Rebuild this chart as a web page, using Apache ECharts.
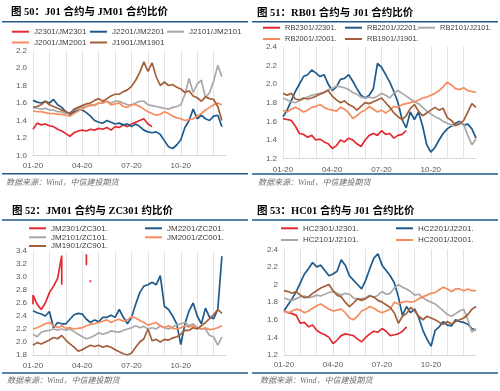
<!DOCTYPE html>
<html><head><meta charset="utf-8">
<script src="https://cdn.jsdelivr.net/npm/echarts@6/dist/echarts.min.js"></script>
<style>html,body{margin:0;padding:0;background:#fff}#c{width:500px;height:391px}</style>
</head><body><div id="c"></div>
<script>
const categories = ["01-20","01-27","02-05","02-12","02-20","02-27","03-05","03-12","03-20","03-27","04-05","04-12","04-20","04-27","05-05","05-12","05-20","05-27","06-05","06-12","06-20","06-27","07-05","07-12","07-20","07-27","08-05","08-12","08-20","08-27","09-05","09-12","09-20","09-27","10-05","10-12","10-20","10-27","11-05","11-12","11-20","11-27","12-05","12-12","12-20","12-27","01-05","01-12"];
const tickLabels = ["01-20","04-20","07-20","10-20"];

// Panel 1: J01 / JM01
const p1Names = ["J2301/JM2301","J2201/JM2201","J2101/JM2101","J2001/JM2001","J1901/JM1901"];
const p1_J2301 = [1.30,1.37,1.35,1.36,1.34,1.33,1.30,1.28,1.25,1.22,1.26,1.28,1.29,1.28,1.30,1.29,1.31,1.30,1.32,1.29,1.33,1.32,1.35,1.33,1.36,1.38,1.40,1.42,1.36,1.33];
const p1_J2201 = [1.63,1.61,1.60,1.62,1.60,1.64,1.58,1.55,1.50,1.47,1.50,1.52,1.52,1.49,1.45,1.40,1.38,1.37,1.40,1.38,1.36,1.37,1.35,1.36,1.33,1.36,1.33,1.29,1.27,1.26,1.27,1.24,1.17,1.10,1.08,1.12,1.18,1.32,1.40,1.53,1.42,1.46,1.42,1.40,1.45,1.46,1.33];
const p1_J2101 = [1.55,1.54,1.53,1.54,1.52,1.52,1.50,1.50,1.48,1.49,1.52,1.54,1.55,1.56,1.58,1.57,1.60,1.60,1.62,1.60,1.62,1.62,1.60,1.58,1.58,1.60,1.62,1.62,1.58,1.57,1.56,1.55,1.54,1.53,1.55,1.56,1.58,1.70,1.88,1.72,1.82,1.86,1.66,1.72,1.85,2.03,1.90];
const p1_J2001 = [1.51,1.50,1.50,1.49,1.48,1.48,1.47,1.47,1.46,1.45,1.48,1.51,1.53,1.56,1.57,1.58,1.60,1.60,1.62,1.58,1.59,1.60,1.56,1.55,1.58,1.58,1.56,1.53,1.50,1.48,1.46,1.47,1.50,1.48,1.45,1.43,1.42,1.40,1.41,1.42,1.45,1.48,1.52,1.55,1.58,1.60,1.58];
const p1_J1901 = [1.55,1.56,1.58,1.62,1.58,1.56,1.54,1.52,1.50,1.48,1.53,1.55,1.57,1.59,1.60,1.63,1.65,1.62,1.65,1.68,1.70,1.70,1.73,1.75,1.79,1.86,1.95,2.07,1.96,2.06,1.90,1.80,1.84,1.80,1.81,1.78,1.76,1.72,1.74,1.68,1.66,1.62,1.67,1.65,1.64,1.56,1.40];

// Panel 2: RB01 / J01
const p2Names = ["RB2301/J2301.","RB2201/J2201.","RB2101/J2101.","RB2001/J2001.","RB1901/J1901."];
const p2_RB2301 = [1.63,1.62,1.61,1.55,1.47,1.46,1.43,1.45,1.40,1.41,1.38,1.36,1.31,1.34,1.40,1.38,1.42,1.40,1.36,1.33,1.40,1.45,1.47,1.45,1.50,1.46,1.47,1.42,1.45,1.46,1.50];
const p2_RB2201 = [1.65,1.72,1.82,1.92,2.00,2.08,2.10,2.15,2.12,2.08,2.10,2.00,1.93,1.97,2.05,2.06,2.10,2.03,1.95,1.88,1.85,1.88,1.95,2.22,2.18,2.10,2.02,1.92,1.80,1.62,1.53,1.70,1.62,1.70,1.55,1.35,1.27,1.32,1.40,1.47,1.52,1.55,1.58,1.60,1.56,1.57,1.52,1.42];
const p2_RB2101 = [1.85,1.83,1.81,1.80,1.82,1.84,1.86,1.88,1.89,1.90,1.91,1.94,1.95,1.98,1.97,1.96,1.94,1.91,1.89,1.86,1.85,1.86,1.85,1.87,1.90,1.88,1.85,1.90,1.93,1.90,1.87,1.84,1.81,1.79,1.75,1.71,1.68,1.65,1.63,1.60,1.58,1.56,1.55,1.59,1.57,1.45,1.35,1.41];
const p2_RB2001 = [1.72,1.70,1.73,1.75,1.73,1.70,1.72,1.75,1.76,1.78,1.75,1.73,1.72,1.71,1.75,1.73,1.69,1.63,1.66,1.70,1.72,1.76,1.73,1.70,1.72,1.69,1.72,1.76,1.75,1.78,1.79,1.80,1.81,1.83,1.85,1.86,1.88,1.90,1.93,1.97,2.02,1.99,1.95,1.94,1.96,1.93,1.92,1.91];
const p2_RB1901 = [1.90,1.88,1.90,1.84,1.83,1.85,1.84,1.85,1.87,1.89,1.91,1.93,1.87,1.83,1.80,1.82,1.78,1.76,1.72,1.76,1.80,1.79,1.81,1.83,1.85,1.80,1.75,1.69,1.65,1.62,1.66,1.74,1.78,1.71,1.66,1.69,1.72,1.75,1.72,1.74,1.64,1.61,1.56,1.57,1.61,1.70,1.79,1.75];

// Panel 3: JM01 / ZC301   (red series: [category index, value], null = gap)
const p3Names = ["JM2301/ZC301.","JM2201/ZC201.","JM2101/ZC101.","JM2001/ZC001.","JM1901/ZC901."];
const p3_JM2301 = [[0,2.58],[0,2.72],[1,2.58],[2,2.50],[3,2.60],[4,2.76],[5,2.86],[6,2.98],[7,3.33],[7,2.98],[7,2.88],[8,null],[13,3.35],[13,3.18],[14,null],[14,2.95],[14,2.92]];
const p3_JM2201 = [2.48,2.45,2.43,2.40,2.47,2.22,2.30,2.28,2.28,2.35,2.42,2.44,2.43,2.35,2.30,2.34,2.31,2.38,2.38,2.41,2.38,2.50,2.38,2.28,2.38,2.58,2.76,2.86,2.88,2.92,2.88,3.02,2.55,2.50,2.40,2.28,1.96,2.28,2.48,2.60,2.40,2.28,2.52,2.38,2.36,2.50,3.32];
const p3_JM2101 = [2.12,2.08,2.15,2.17,2.18,2.20,2.18,2.20,2.18,2.20,2.16,2.12,2.08,2.05,2.07,2.10,2.14,2.12,2.14,2.17,2.16,2.15,2.18,2.20,2.22,2.25,2.22,2.24,2.20,2.22,2.20,2.25,2.22,2.20,2.23,2.26,2.28,2.30,2.25,2.28,2.22,2.20,2.20,2.10,2.08,1.95,2.08];
const p3_JM2001 = [2.20,2.22,2.25,2.28,2.30,2.25,2.22,2.25,2.21,2.22,2.20,2.21,2.22,2.25,2.27,2.28,2.30,2.32,2.34,2.30,2.33,2.35,2.32,2.34,2.39,2.37,2.33,2.30,2.26,2.28,2.30,2.25,2.22,2.25,2.21,2.20,2.22,2.25,2.23,2.25,2.22,2.20,2.22,2.19,2.20,2.22,2.25];
const p3_JM1901 = [1.95,1.99,1.97,2.00,2.03,2.07,2.05,2.10,2.03,1.97,1.92,1.86,1.88,1.92,1.95,1.93,1.95,1.92,1.94,1.92,1.88,1.85,1.82,1.80,1.83,1.92,2.00,2.05,2.20,2.02,2.04,2.00,2.04,2.03,2.06,2.08,2.12,2.18,2.18,2.22,2.20,2.25,2.30,2.36,2.42,2.50,2.44];

// Panel 4: HC01 / J01
const p4Names = ["HC2301/J2301.","HC2201/J2201.","HC2101/J2101.","HC2001/J2001.","HC1901/J1901."];
const p4_HC2301 = [1.70,1.68,1.67,1.65,1.56,1.57,1.52,1.54,1.48,1.45,1.43,1.40,1.33,1.37,1.42,1.44,1.43,1.42,1.38,1.35,1.40,1.44,1.47,1.46,1.50,1.47,1.42,1.43,1.44,1.47,1.52];
const p4_HC2201 = [1.70,1.77,1.84,1.92,2.02,2.12,2.18,2.25,2.20,2.22,2.16,2.10,2.12,2.15,2.28,2.22,2.10,2.05,2.00,1.95,2.05,2.18,2.30,2.35,2.22,2.16,2.10,2.02,1.86,1.65,1.75,1.68,1.72,1.62,1.48,1.38,1.30,1.48,1.52,1.58,1.54,1.53,1.60,1.58,1.57,1.55,1.50,1.48];
const p4_HC2101 = [1.85,1.83,1.82,1.84,1.86,1.87,1.85,1.86,1.88,1.87,1.89,1.91,1.92,1.90,1.88,1.90,1.89,1.85,1.83,1.84,1.85,1.88,1.85,1.88,1.92,1.89,1.90,1.96,2.00,1.97,1.95,1.92,1.88,1.89,1.85,1.82,1.80,1.78,1.74,1.70,1.66,1.64,1.67,1.70,1.72,1.60,1.46,1.50];
const p4_HC2001 = [1.70,1.68,1.70,1.72,1.71,1.68,1.70,1.73,1.76,1.78,1.75,1.72,1.70,1.71,1.72,1.68,1.62,1.60,1.64,1.70,1.72,1.75,1.73,1.70,1.68,1.70,1.72,1.80,1.78,1.80,1.81,1.80,1.81,1.84,1.86,1.88,1.90,1.91,1.94,1.97,1.95,1.92,1.95,1.95,1.93,1.95,1.93,1.93];
const p4_HC1901 = [1.93,1.92,1.90,1.92,1.88,1.85,1.86,1.90,1.93,1.96,1.98,2.00,1.93,1.88,1.86,1.80,1.75,1.79,1.84,1.82,1.84,1.87,1.86,1.82,1.80,1.77,1.74,1.68,1.56,1.64,1.67,1.74,1.70,1.64,1.60,1.64,1.62,1.60,1.57,1.55,1.58,1.55,1.58,1.60,1.62,1.66,1.72,1.75];

const titles = ["图 50：J01 合约与 JM01 合约比价","图 51：RB01 合约与 J01 合约比价","图 52：JM01 合约与 ZC301 约比价","图 53：HC01 合约与 J01 合约比价"];
const sourceText = "数据来源：Wind，中信建投期货";
const yRanges = [[1.0,2.2],[1.2,2.4],[1.8,3.4],[1.2,2.4]];

const COLORS = ['#e52a2f','#1e5b8c','#a8a8a8','#f68c5e','#a2603a'];
const FONT = '"Liberation Sans","Noto Sans CJK SC",sans-serif';

const grids = [
  {left:33, top:50.5, width:193, height:105},
  {left:283, top:46.7, width:193, height:112},
  {left:33, top:251, width:193, height:104},
  {left:284, top:249.3, width:192, height:105.7}
];
const labelMargins = [6,7,7,6];

const xAxes = grids.map((g,i)=>({
  type:'category', gridIndex:i, data:categories, boundaryGap:false,
  axisLine:{show:true, lineStyle:{color:'#d9d9d9'}}, axisTick:{show:false},
  axisLabel:{interval:(idx,val)=>tickLabels.indexOf(val)>=0 && idx<40, color:'#595959', fontSize:8, fontFamily:FONT, margin:labelMargins[i]},
  splitLine:{show:true, interval:(idx)=>idx%4===0, lineStyle:{color:'#e3e3e3', width:1}}
}));
const yAxes = yRanges.map((r,i)=>({
  type:'value', gridIndex:i, min:r[0], max:r[1], interval:0.2,
  axisLine:{show:false}, axisTick:{show:false}, splitLine:{show:false},
  axisLabel:{color:'#595959', fontSize:8, fontFamily:FONT, margin:6,
    formatter: i===3 ? (v=>String(+v.toFixed(1))) : (v=>v.toFixed(1))}
}));

function mk(name, data, color, gi){
  return {name, type:'line', data, xAxisIndex:gi, yAxisIndex:gi, showSymbol:false, symbol:'none',
    connectNulls:false, lineStyle:{width:1.7, color}, itemStyle:{color}, emphasis:{disabled:true}};
}
const series = [
  mk(p1Names[0],p1_J2301,COLORS[0],0), mk(p1Names[1],p1_J2201,COLORS[1],0), mk(p1Names[2],p1_J2101,COLORS[2],0), mk(p1Names[3],p1_J2001,COLORS[3],0), mk(p1Names[4],p1_J1901,COLORS[4],0),
  mk(p2Names[0],p2_RB2301,COLORS[0],1), mk(p2Names[1],p2_RB2201,COLORS[1],1), mk(p2Names[2],p2_RB2101,COLORS[2],1), mk(p2Names[3],p2_RB2001,COLORS[3],1), mk(p2Names[4],p2_RB1901,COLORS[4],1),
  mk(p3Names[0],p3_JM2301,COLORS[0],2), mk(p3Names[1],p3_JM2201,COLORS[1],2), mk(p3Names[2],p3_JM2101,COLORS[2],2), mk(p3Names[3],p3_JM2001,COLORS[3],2), mk(p3Names[4],p3_JM1901,COLORS[4],2),
  mk(p4Names[0],p4_HC2301,COLORS[0],3), mk(p4Names[1],p4_HC2201,COLORS[1],3), mk(p4Names[2],p4_HC2101,COLORS[2],3), mk(p4Names[3],p4_HC2001,COLORS[3],3), mk(p4Names[4],p4_HC1901,COLORS[4],3)
];

function leg(name, left, yc, fs){
  return {data:[name], left, top:yc-5, itemWidth:17, itemHeight:2, icon:'rect', padding:0, itemGap:0,
    selectedMode:false, textStyle:{fontSize:fs, color:'#404040', fontFamily:FONT, lineHeight:10}};
}
const legends = [
  leg(p1Names[0],12,31.7,8), leg(p1Names[1],90,31.7,8), leg(p1Names[2],167,31.7,8),
  leg(p1Names[3],12,42.5,8), leg(p1Names[4],90,42.5,8),
  leg(p2Names[0],263,27.7,7.5), leg(p2Names[1],345,27.7,7.5), leg(p2Names[2],418,27.7,7.5),
  leg(p2Names[3],263,39,7.5), leg(p2Names[4],345,39,7.5),
  leg(p3Names[0],29,228.3,8), leg(p3Names[1],145,228.3,8),
  leg(p3Names[2],29,237.3,8), leg(p3Names[3],145,237.3,8),
  leg(p3Names[4],29,246,8),
  leg(p4Names[0],281,228.3,8), leg(p4Names[1],396,228.3,8),
  leg(p4Names[2],281,240,8), leg(p4Names[3],396,240,8)
];

const LINE = '#215a8c';
const TFONT = 'bold 10.5px "Liberation Serif","Noto Sans CJK SC",serif';
const SFONT = 'italic 8px "Liberation Serif","Noto Sans CJK SC",serif';
function hline(x1,x2,y){ return {type:'line', silent:true, shape:{x1,y1:y,x2,y2:y}, style:{stroke:LINE, lineWidth:1.6}}; }
function txt(x,y,text,font,fill){ return {type:'text', silent:true, x, y, style:{text, font, fill, verticalAlign:'middle', align:'left'}}; }
const graphic = [
  txt(11,12.7,titles[0],TFONT,'#000'), txt(257,13.3,titles[1],TFONT,'#000'),
  txt(12,211.7,titles[2],TFONT,'#000'), txt(257,211.7,titles[3],TFONT,'#000'),
  hline(2,248,21.7), hline(252,498,21.7), hline(2,248,220), hline(252,498,220),
  hline(2,248,173.7), hline(252,498,174), hline(2,248,373), hline(252,498,373),
  txt(6,183,sourceText,SFONT,'#6e6e6e'), txt(258,183,sourceText,SFONT,'#6e6e6e'),
  txt(7,380.5,sourceText,SFONT,'#6e6e6e'), txt(260,380.5,sourceText,SFONT,'#6e6e6e')
];

const chart = echarts.init(document.getElementById('c'), null, {renderer:'canvas'});
chart.setOption({
  animation:false, backgroundColor:'#fff',
  grid:grids, xAxis:xAxes, yAxis:yAxes, legend:legends, series, graphic
});
</script></body></html>
